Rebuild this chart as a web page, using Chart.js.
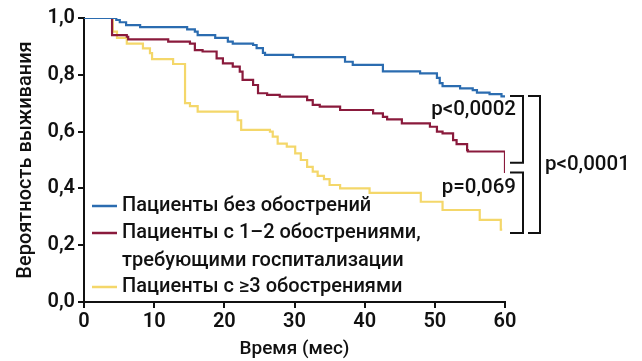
<!DOCTYPE html>
<html><head><meta charset="utf-8">
<script src="https://cdn.jsdelivr.net/npm/chart.js@4/dist/chart.umd.min.js"></script>
<style>html,body{margin:0;padding:0;background:#fff;}#wrap{width:642px;height:361px;}</style>
</head><body><div id="wrap"><canvas id="c" width="642" height="361"></canvas></div>
<script>
// ---- data ----
const seriesNames = ['Пациенты без обострений', ['Пациенты с 1–2 обострениями,', 'требующими госпитализации'], 'Пациенты с ≥3 обострениями'];
const monthsNone = [0, 4.6, 5.1, 6.0, 8.0, 14.7, 15.8, 16.2, 18.7, 20.5, 21.2, 24.1, 24.6, 25.5, 25.8, 29.8, 37.2, 38.3, 42.6, 47.9, 50.3, 50.7, 51.1, 53.6, 55.4, 56.0, 57.8, 59.5, 60];
const survNone   = [1.0, 0.993, 0.985, 0.975, 0.968, 0.96, 0.952, 0.94, 0.93, 0.917, 0.91, 0.905, 0.894, 0.877, 0.87, 0.862, 0.846, 0.835, 0.812, 0.805, 0.789, 0.771, 0.76, 0.752, 0.746, 0.737, 0.732, 0.724, 0.72];
const monthsHosp = [0, 4.0, 6.1, 6.3, 12.0, 15.1, 15.8, 16.9, 18.9, 19.8, 21.2, 22.2, 22.6, 24.1, 24.8, 26.1, 27.9, 31.8, 32.6, 33.6, 36.5, 41.2, 42.6, 43.2, 45.3, 49.3, 50.3, 51.1, 52.6, 53.1, 54.6, 54.7, 60];
const survHosp   = [1.0, 0.94, 0.934, 0.925, 0.917, 0.91, 0.887, 0.882, 0.858, 0.84, 0.829, 0.811, 0.782, 0.764, 0.735, 0.729, 0.723, 0.711, 0.694, 0.688, 0.676, 0.664, 0.652, 0.643, 0.629, 0.617, 0.6, 0.594, 0.57, 0.556, 0.535, 0.53, 0.454];
const monthsFreq = [0, 4.1, 4.7, 6.1, 8.4, 9.4, 9.7, 12.7, 14.4, 15.1, 16.2, 21.9, 22.4, 26.5, 26.9, 27.6, 28.9, 30.1, 30.9, 31.8, 32.6, 33.3, 34.2, 35.0, 36.5, 40.7, 48.0, 51.1, 56.4, 59.4, 59.6];
const survFreq   = [1.0, 0.952, 0.93, 0.91, 0.893, 0.876, 0.855, 0.838, 0.70, 0.69, 0.67, 0.64, 0.606, 0.6, 0.582, 0.558, 0.547, 0.523, 0.5, 0.476, 0.459, 0.444, 0.433, 0.412, 0.4, 0.384, 0.353, 0.324, 0.289, 0.255, 0.255];
const xTicks = [0, 10, 20, 30, 40, 50, 60];
const yTicks = [0, 0.2, 0.4, 0.6, 0.8, 1.0];
const pLabels = ['p<0,0002', 'p=0,069', 'p<0,0001'];
// bracket anchor values (survival at end of curves)
const bracketLevels = [0.725, 0.49, 0.456, 0.243];

const colors = ['#2b6cb0', '#8a1a3c', '#f4d76a'];
const FONT = 'Roboto, "DejaVu Sans", sans-serif';

function pts(t, s) { return t.map((v, i) => ({x: v, y: s[i]})); }

const overlay = {
  id: 'overlay',
  afterDraw(chart) {
    const ctx = chart.ctx, a = chart.chartArea, ys = chart.scales.y;
    ctx.save();
    // legend
    ctx.font = '500 20px ' + FONT;
    ctx.fillStyle = '#111';
    ctx.textBaseline = 'middle';
    const rows = [[0, seriesNames[0], 96], [1, seriesNames[1][0], 69], [-1, seriesNames[1][1], 41], [2, seriesNames[2], 15]];
    rows.forEach(([ci, txt, off]) => {
      const y = a.bottom - off;
      if (ci >= 0) {
        ctx.strokeStyle = colors[ci]; ctx.lineWidth = 2.5;
        ctx.beginPath(); ctx.moveTo(a.left + 8, y); ctx.lineTo(a.left + 33, y); ctx.stroke();
      }
      ctx.fillText(txt, a.left + 38, y);
    });
    // brackets
    const [l0, l1, l2, l3] = bracketLevels.map(v => ys.getPixelForValue(v));
    const r = a.right;
    ctx.strokeStyle = '#111'; ctx.lineWidth = 2;
    function bracket(x0, x1, yt, yb) {
      ctx.beginPath(); ctx.moveTo(x0, yt); ctx.lineTo(x1, yt); ctx.lineTo(x1, yb); ctx.lineTo(x0, yb); ctx.stroke();
    }
    bracket(r + 5, r + 18, l0, l1);
    bracket(r + 5, r + 18, l2, l3);
    bracket(r + 23, r + 35, l0, l3);
    ctx.font = '500 20.5px ' + FONT;
    ctx.textAlign = 'right';
    ctx.fillText(pLabels[0], r + 11, l0 + 14);
    ctx.fillText(pLabels[1], r + 11, l2 + 15);
    ctx.textAlign = 'left';
    ctx.fillText(pLabels[2], r + 40, (l0 + l3) / 2 + 0);
    ctx.restore();
  }
};

new Chart(document.getElementById('c'), {
  type: 'line',
  data: {
    datasets: [
      {label: 'none', data: pts(monthsNone, survNone), borderColor: colors[0]},
      {label: 'hosp', data: pts(monthsHosp, survHosp), borderColor: colors[1]},
      {label: 'freq', data: pts(monthsFreq, survFreq), borderColor: colors[2]}
    ].map(d => Object.assign(d, {stepped: true, borderWidth: 2.2, pointRadius: 0, fill: false, tension: 0}))
  },
  options: {
    responsive: false, animation: false, devicePixelRatio: 1,
    layout: {padding: {left: 14, right: 137, top: 18, bottom: 0}},
    plugins: {legend: {display: false}, tooltip: {enabled: false}},
    scales: {
      x: {
        type: 'linear', min: 0, max: 60,
        afterBuildTicks: s => { s.ticks = xTicks.map(v => ({value: v})); },
        afterFit: s => { s.height = 59; },
        grid: {drawOnChartArea: false, drawTicks: true, tickLength: 6, color: '#111', lineWidth: 2},
        border: {display: true, color: '#111', width: 2},
        ticks: {color: '#111', font: {family: FONT, size: 20, weight: '600'}, padding: 2, maxRotation: 0},
        title: {display: true, text: 'Время (мес)', color: '#111', font: {family: FONT, size: 19, weight: '500'}, padding: {top: 2, bottom: 0}}
      },
      y: {
        min: 0, max: 1,
        afterBuildTicks: s => { s.ticks = yTicks.map(v => ({value: v})); },
        afterFit: s => { s.width = 70; },
        grid: {drawOnChartArea: false, drawTicks: true, tickLength: 6, color: '#111', lineWidth: 2},
        border: {display: true, color: '#111', width: 2},
        ticks: {color: '#111', font: {family: FONT, size: 20, weight: '600'}, padding: 3,
                callback: v => v.toFixed(1).replace('.', ',')},
        title: {display: true, text: 'Вероятность выживания', color: '#111', font: {family: FONT, size: 20, weight: '500'}, padding: {top: 0, bottom: 0}}
      }
    }
  },
  plugins: [overlay]
});
</script></body></html>
